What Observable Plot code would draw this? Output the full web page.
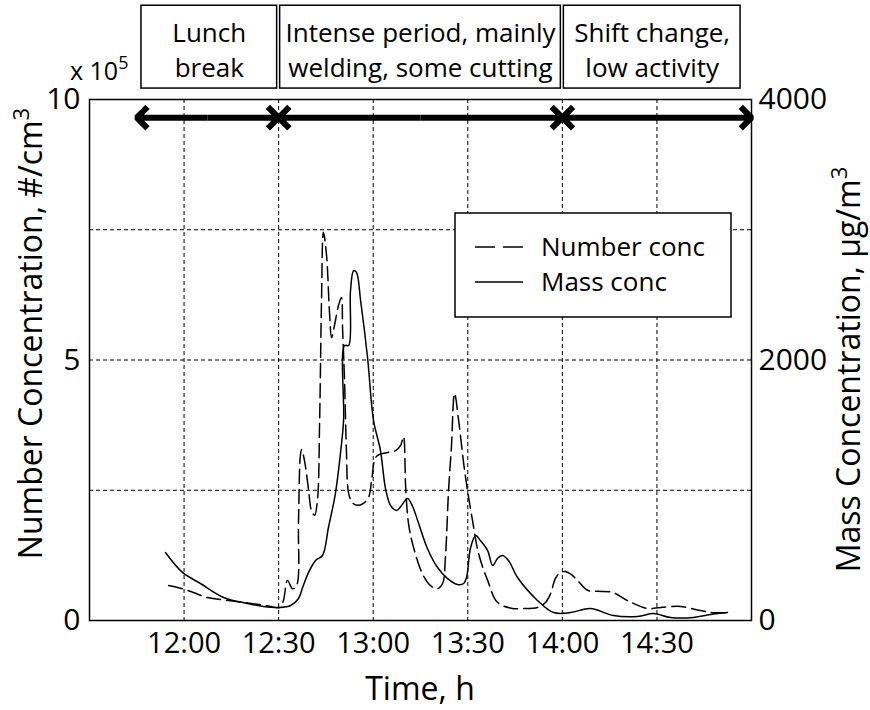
<!DOCTYPE html>
<html>
<head>
<meta charset="utf-8">
<script src="https://cdn.jsdelivr.net/npm/d3@7"></script>
<script src="https://cdn.jsdelivr.net/npm/@observablehq/plot@0.6"></script>
<style>
  body { margin: 0; background: #fff; }
  svg { display: block; }
</style>
</head>
<body>
<div id="chart"></div>
<script>
// ---------- data (number conc in units of 1e5 #/cm3, mass conc in ug/m3) ----------
const numberTimes = ["11:55.1","12:01.1","12:07.4","12:14.7","12:23.3","12:27.4","12:30.3","12:31.5","12:32.8","12:34.4",
  "12:35.7","12:36.3","12:36.9","12:37.3","12:38.2","12:39.5","12:40.4","12:41.4","12:42.3","12:43.0",
  "12:43.6","12:44.2","12:45.2","12:46.1","12:46.8","12:47.7","12:49.0","12:49.9","12:50.3","12:50.9",
  "12:51.5","12:52.2","12:53.4","12:55.0","12:56.9","12:58.5","12:59.5","13:00.4","13:01.4","13:04.2",
  "13:07.1","13:08.7","13:09.6","13:10.3","13:11.2","13:12.8","13:15.6","13:18.2","13:20.4","13:22.0",
  "13:22.9","13:23.9","13:24.8","13:25.8","13:27.1","13:28.7","13:29.9","13:31.5","13:33.4","13:36.3",
  "13:39.4","13:44.2","13:46.7","13:52.1","13:54.7","13:56.3","13:57.8","13:59.4","14:01.0","14:02.9",
  "14:04.8","14:08.0","14:11.2","14:15.9","14:20.7","14:27.0","14:31.2","14:37.5","14:43.8","14:48.0","14:52.4"];
const numberValues = [0.67,0.58,0.44,0.38,0.31,0.27,0.25,0.38,0.77,0.61,
  0.67,1.92,3.17,3.28,3.07,2.50,2.11,2.02,2.30,3.84,
  6.14,7.45,7.01,5.95,5.43,5.66,6.05,6.20,5.57,4.61,
  3.26,2.44,2.26,2.21,2.25,2.36,2.69,3.07,3.17,3.22,
  3.26,3.36,3.53,2.55,1.86,1.40,0.90,0.67,0.61,0.71,
  1.21,2.50,3.32,4.36,3.84,3.01,2.50,1.92,1.29,0.77,
  0.35,0.23,0.23,0.25,0.35,0.52,0.81,0.92,0.94,0.88,
  0.77,0.58,0.56,0.54,0.38,0.23,0.25,0.27,0.19,0.15,0.15];

const massTimes = ["11:54.1","11:59.5","12:05.2","12:12.5","12:20.1","12:25.2","12:30.3","12:33.8","12:36.3","12:37.6",
  "12:39.5","12:41.7","12:43.9","12:45.8","12:48.0","12:49.6","12:50.6","12:50.9","12:52.2","12:52.8",
  "12:53.8","12:54.7","12:56.0","12:58.2","13:00.1","13:02.3","13:03.9","13:05.5","13:07.4","13:09.0",
  "13:10.9","13:12.5","13:14.1","13:17.2","13:20.4","13:23.6","13:26.8","13:28.7","13:29.6","13:30.9",
  "13:32.5","13:34.0","13:36.3","13:37.9","13:39.4","13:41.0","13:42.9","13:45.8","13:52.1","13:57.2",
  "14:02.6","14:08.9","14:16.2","14:23.9","14:28.9","14:34.3","14:41.6","14:47.0","14:52.4"];
const massValues = [522,369,284,177,131,108,100,115,169,253,
  369,461,499,714,975,1282,1536,2111,2111,2534,
  2687,2672,2457,2019,1536,1305,1013,883,845,883,
  937,875,768,553,407,322,276,284,330,560,
  653,614,537,422,476,499,461,330,154,61,
  61,92,38,31,54,23,23,46,61];

const periodStarts = ["11:46","12:30","14:00"];
const periodEnds   = ["12:30","14:00","14:57"];
const periodLabels = ["Lunch\nbreak", "Intense period, mainly\nwelding, some cutting", "Shift change,\nlow activity"];
const arrowStarts = ["11:45","12:30","14:00"];
const arrowEnds   = ["12:30","14:00","15:00"];

const xDomain = ["11:30","15:00"];
const xTicks = ["12:00","12:30","13:00","13:30","14:00","14:30"];
const yTicks = [0, 5, 10];
const yGrid = [2.5, 5, 7.5];
const massTickLabels = ["0", "2000", "4000"];
const massPerUnit = 400;          // 4000 ug/m3 <-> 10 x 1e5 #/cm3

// layout constants (in y-data units above the frame)
const boxBottom = 10.21, boxTop = 11.8, boxTextY = 10.98, arrowY = 9.65;

// ---------- helpers ----------
function t(s) {
  const [h, m] = s.split(":");
  return new Date(Date.UTC(2020, 0, 1, +h, 0, 0) + (+m) * 60000);
}
const numberData = numberTimes.map((d, i) => ({time: t(d), value: numberValues[i]}));
const massData = massTimes.map((d, i) => ({time: t(d), value: massValues[i] / massPerUnit}));
const periods = periodStarts.map((d, i) => ({
  start: t(d), end: t(periodEnds[i]), mid: new Date((+t(d) + +t(periodEnds[i])) / 2), label: periodLabels[i]
}));
const arrows = arrowStarts.map((d, i) => ({
  start: t(d), end: t(arrowEnds[i]), mid: new Date((+t(d) + +t(arrowEnds[i])) / 2)
}));

const FONT = "'Open Sans', 'Noto Sans', sans-serif";
const WEIGHT = 500;

const chart = Plot.plot({
  width: 870,
  height: 710,
  marginLeft: 89,
  marginRight: 119,
  marginTop: 99,
  marginBottom: 90,
  style: {fontFamily: FONT, fontSize: "29px", fontWeight: WEIGHT, color: "#000", background: "#fff", overflow: "visible"},
  x: {type: "utc", domain: xDomain.map(t)},
  y: {domain: [0, 10]},
  marks: [
    Plot.ruleX(xTicks.map(t), {stroke: "#000", strokeWidth: 1, strokeDasharray: "4,3"}),
    Plot.ruleY(yGrid, {stroke: "#000", strokeWidth: 1, strokeDasharray: "4,3"}),
    Plot.frame({stroke: "#000", strokeWidth: 1.5}),
    Plot.axisX(xTicks.map(t), {tickSize: 0, tickPadding: 12, tickFormat: d3.utcFormat("%H:%M"), label: null, fontSize: 29}),
    Plot.axisY(yTicks, {anchor: "left", tickSize: 0, tickPadding: 9, label: null, fontSize: 30,
      tickFormat: (d) => String(d)}),
    Plot.axisY(yTicks, {anchor: "right", tickSize: 0, tickPadding: 7, label: null, fontSize: 30,
      tickFormat: (d) => massTickLabels[yTicks.indexOf(d)]}),
    Plot.line(massData, {x: "time", y: "value", curve: "catmull-rom", stroke: "#000", strokeWidth: 1.5}),
    Plot.line(numberData, {x: "time", y: "value", curve: "catmull-rom", stroke: "#000", strokeWidth: 1.5, strokeDasharray: "14,6"}),
    Plot.rect(periods, {x1: "start", x2: "end", y1: boxBottom, y2: boxTop, insetLeft: 1.5, insetRight: 1.5,
      fill: "#fff", stroke: "#000", strokeWidth: 1.5}),
    Plot.text(periods, {x: "mid", y: boxTextY, text: "label", fontSize: 26, lineHeight: 1.32, fill: "#000"}),
    Plot.arrow(arrows, {x1: "mid", x2: "start", y1: arrowY, y2: arrowY, stroke: "#000", strokeWidth: 6,
      headLength: 3.8, headAngle: 90, strokeLinejoin: "miter", strokeLinecap: "butt"}),
    Plot.arrow(arrows, {x1: "mid", x2: "end", y1: arrowY, y2: arrowY, stroke: "#000", strokeWidth: 6,
      headLength: 3.8, headAngle: 90, strokeLinejoin: "miter", strokeLinecap: "butt"})
  ]
});

document.getElementById("chart").appendChild(chart);

// ---------- annotations: axis titles, multiplier, legend ----------
const svg = d3.select(chart);
const [fx0, fx1] = chart.scale("x").range;
const [fy0, fy1] = chart.scale("y").range; // fy0 = bottom, fy1 = top
const fcx = (fx0 + fx1) / 2;

const g = svg.append("g").attr("font-family", FONT).attr("font-weight", WEIGHT).attr("fill", "#000");

// left axis title
const lt = g.append("text")
  .attr("transform", `translate(${fx0 - 47},${(fy0 + fy1) / 2 - 26}) rotate(-90)`)
  .attr("text-anchor", "middle").attr("font-size", 32);
lt.append("tspan").text("Number Concentration, #/cm");
lt.append("tspan").attr("dy", -13).attr("font-size", 22).text("3");

// right axis title
const rt = g.append("text")
  .attr("transform", `translate(${fx1 + 109},${(fy0 + fy1) / 2 + 10}) rotate(-90)`)
  .attr("text-anchor", "middle").attr("font-size", 32);
rt.append("tspan").text("Mass Concentration, µg/m");
rt.append("tspan").attr("dy", -13).attr("font-size", 22).text("3");

// x axis title
g.append("text").attr("x", fcx).attr("y", fy0 + 80).attr("text-anchor", "middle")
  .attr("font-size", 32).text("Time, h");

// multiplier
const mt = g.append("text").attr("x", fx0 - 19).attr("y", fy1 - 19).attr("font-size", 25)
  .attr("text-anchor", "start");
mt.append("tspan").text("x 10");
mt.append("tspan").attr("dy", -11).attr("font-size", 18).text("5");

// legend
const lx = fx0 + 366, ly = fy1 + 114, lw = 276, lh = 104;
const lg = svg.append("g");
lg.append("rect").attr("x", lx).attr("y", ly).attr("width", lw).attr("height", lh)
  .attr("fill", "#fff").attr("stroke", "#000").attr("stroke-width", 1.5);
const rows = [{label: "Number conc", dash: "20,8"}, {label: "Mass conc", dash: null}];
rows.forEach((r, i) => {
  const yy = ly + 34 + i * 35;
  lg.append("line").attr("x1", lx + 20).attr("x2", lx + 68).attr("y1", yy).attr("y2", yy)
    .attr("stroke", "#000").attr("stroke-width", 1.5).attr("stroke-dasharray", r.dash);
  lg.append("text").attr("x", lx + 86).attr("y", yy).attr("dy", "0.35em")
    .attr("text-anchor", "start").attr("font-weight", WEIGHT)
    .attr("font-family", FONT).attr("font-size", 26).attr("fill", "#000").text(r.label);
});
</script>
</body>
</html>
